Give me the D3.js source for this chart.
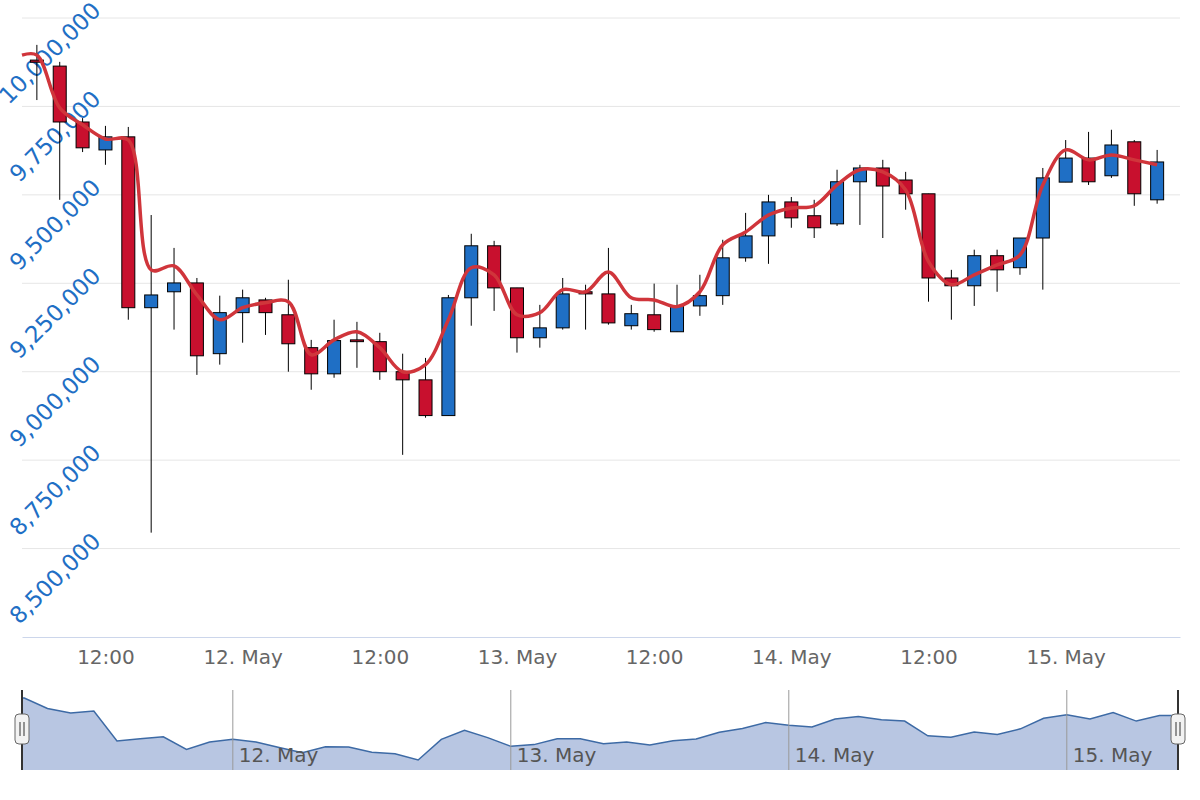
<!DOCTYPE html>
<html><head><meta charset="utf-8">
<script src="https://cdn.jsdelivr.net/npm/d3@7"></script>
<style>body{margin:0;background:#fff}svg{font-family:"Lucida Grande","DejaVu Sans",Arial,sans-serif}</style>
</head><body><svg id="c" width="1200" height="800"></svg>
<script>
const startTime = "2019-05-11T06:00";
const stepHours = 2;
const opens  = [9881,9864,9706,9627,9664,9181,9226,9251,9051,9167,9203,9161,9068,8994,9090,9085,9000,8977,8876,9209,9356,9237,9096,9124,9226,9220,9130,9161,9113,9186,9215,9322,9384,9480,9441,9418,9537,9576,9542,9503,9265,9243,9328,9294,9378,9536,9604,9554,9650,9486];
const highs  = [9924,9876,9717,9695,9692,9443,9350,9265,9215,9232,9209,9260,9090,9147,9141,9110,9051,9039,9217,9390,9370,9237,9189,9265,9246,9350,9189,9249,9246,9274,9373,9449,9500,9494,9486,9571,9585,9599,9565,9503,9288,9345,9345,9378,9576,9655,9678,9684,9655,9627];
const lows   = [9768,9486,9621,9585,9147,8545,9119,8991,9020,9082,9104,9000,8949,8983,9011,8977,8765,8870,8876,9130,9172,9054,9068,9119,9119,9133,9119,9113,9113,9158,9189,9311,9305,9407,9378,9412,9415,9378,9458,9198,9147,9186,9226,9274,9232,9536,9528,9548,9469,9475];
const closes = [9875,9706,9633,9664,9181,9217,9251,9045,9167,9209,9167,9079,8994,9088,9085,9000,8977,8876,9209,9356,9237,9096,9124,9220,9220,9138,9164,9119,9186,9215,9322,9384,9480,9435,9407,9537,9576,9525,9503,9265,9243,9328,9288,9378,9548,9604,9537,9641,9503,9593];
const lineVals = [9895,9746,9698,9658,9655,9288,9299,9217,9147,9181,9195,9198,9048,9090,9113,9068,9000,9020,9147,9294,9274,9161,9167,9232,9226,9282,9209,9203,9184,9226,9359,9395,9443,9463,9469,9528,9571,9565,9514,9311,9246,9274,9302,9330,9528,9627,9599,9613,9599,9585];
const yTicks = [8500000,8750000,9000000,9250000,9500000,9750000,10000000];
const navDays = ["2019-05-12","2019-05-13","2019-05-14","2019-05-15"];

const svg = d3.select("#c");
const t0 = new Date(startTime);
const times = opens.map((_,i)=>new Date(+t0 + i*stepHours*3600e3));
const data = times.map((t,i)=>({t,o:opens[i]*1000,h:highs[i]*1000,l:lows[i]*1000,c:closes[i]*1000,v:lineVals[i]*1000}));

const L=22,R=1180,T=18,B=637;
const x = d3.scaleTime().domain([new Date(+t0-1.3*3600e3), new Date(+times[times.length-1]+2.0*3600e3)]).range([L,R]);
const y = d3.scaleLinear().domain([8250000,10000000]).range([B,T]);

svg.append("g").selectAll("line").data(yTicks).join("line")
  .attr("x1",L).attr("x2",R).attr("y1",d=>y(d)).attr("y2",d=>y(d)).attr("stroke","#e6e6e6");
svg.append("g").selectAll("text").data(yTicks).join("text")
  .attr("transform",d=>`translate(102,${y(d)-6}) rotate(-45)`).attr("text-anchor","end")
  .attr("fill","#1f6fc5").attr("font-size",23).text(d=>d3.format(",")(d));
const xAx = d3.axisBottom(x).ticks(d3.timeHour.every(12)).tickSize(0)
  .tickFormat(d=>d.getHours()===0? d3.timeFormat("%-d. ")(d)+"May" : d3.timeFormat("%H:%M")(d));
const gx = svg.append("g").attr("transform",`translate(0,${B})`).call(xAx);
gx.select(".domain").attr("stroke","#ccd6eb");
gx.selectAll("text").attr("fill","#666").attr("font-size",20).attr("y",13).attr("dy","0.71em").attr("font-family","DejaVu Sans");

const w = 13;
const cg = svg.append("g");
cg.selectAll("line").data(data).join("line")
  .attr("x1",d=>x(d.t)).attr("x2",d=>x(d.t)).attr("y1",d=>y(d.h)).attr("y2",d=>y(d.l)).attr("stroke","#000").attr("stroke-width",1);
cg.selectAll("rect").data(data).join("rect")
  .attr("x",d=>x(d.t)-w/2).attr("width",w)
  .attr("y",d=>y(Math.max(d.o,d.c))).attr("height",d=>Math.max(1,Math.abs(y(d.o)-y(d.c))))
  .attr("fill",d=>d.c>=d.o?"#1f6fc5":"#c8102e").attr("stroke","#000").attr("stroke-width",1);

const lineData = [{t:new Date(+t0-1.3*3600e3),v:data[0].v}].concat(data);
svg.append("path").datum(lineData).attr("fill","none").attr("stroke","#d0353b").attr("stroke-width",3.5)
  .attr("d",d3.line().x(d=>x(d.t)).y(d=>y(d.v)).curve(d3.curveCatmullRom.alpha(0.5)));

const nT=690,nB=770;
const nx = d3.scaleTime().domain([new Date(+t0-0.2*3600e3), new Date(+times[times.length-1]+1.6*3600e3)]).range([L,1178]);
const ny = d3.scaleLinear().domain(d3.extent(closes).map(v=>v*1000)).range([nB-10,nT+8]);
const navData = [{t:nx.domain()[0],c:data[0].c}].concat(data,[{t:nx.domain()[1],c:data[data.length-1].c}]);
svg.append("path").datum(navData).attr("fill","rgba(51,92,173,0.35)")
  .attr("d",d3.area().x(d=>nx(d.t)).y0(nB).y1(d=>ny(d.c)));
svg.append("path").datum(navData).attr("fill","none").attr("stroke","#3d6aa5").attr("stroke-width",1.5)
  .attr("d",d3.line().x(d=>nx(d.t)).y(d=>ny(d.c)));
const nd = navDays.map(s=>new Date(s+"T00:00"));
svg.append("g").selectAll("line").data(nd).join("line").attr("x1",d=>nx(d)).attr("x2",d=>nx(d))
  .attr("y1",nT).attr("y2",nB).attr("stroke","#999").attr("stroke-width",1);
svg.append("g").selectAll("text").data(nd).join("text").attr("x",d=>nx(d)+6).attr("y",762)
  .attr("fill","#555").attr("font-size",20).attr("font-family","DejaVu Sans").text(d=>d3.timeFormat("%-d. ")(d)+"May");
[L,1178].forEach(px=>{
  svg.append("line").attr("x1",px).attr("x2",px).attr("y1",nT).attr("y2",nB).attr("stroke","#333").attr("stroke-width",2);
  const g=svg.append("g").attr("transform",`translate(${px},729)`);
  g.append("rect").attr("x",-7).attr("y",-15).attr("width",14).attr("height",30).attr("rx",4)
    .attr("fill","#f2f2f2").attr("stroke","#666");
  g.append("line").attr("x1",-2).attr("x2",-2).attr("y1",-7).attr("y2",7).attr("stroke","#333");
  g.append("line").attr("x1",2).attr("x2",2).attr("y1",-7).attr("y2",7).attr("stroke","#333");
});
</script></body></html>
